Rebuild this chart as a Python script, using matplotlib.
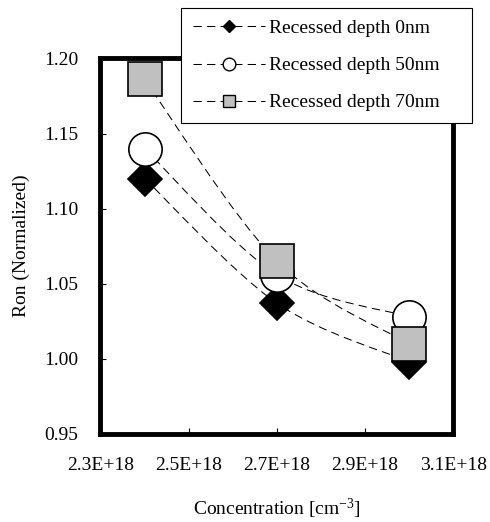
import matplotlib.pyplot as plt
from matplotlib.path import Path
from matplotlib.patches import PathPatch
from matplotlib.lines import Line2D
import numpy as np

plt.rcParams['font.family'] = ['Liberation Serif', 'DejaVu Serif']

# data
concentration = [2.4e18, 2.7e18, 3.0e18]
ron_0nm = [1.120, 1.037, 0.998]
ron_50nm = [1.140, 1.056, 1.028]
ron_70nm = [1.186, 1.065, 1.010]
labels = ['Recessed depth 0nm', 'Recessed depth 50nm', 'Recessed depth 70nm']
xticks = [2.3e18, 2.5e18, 2.7e18, 2.9e18, 3.1e18]
xtick_labels = ['2.3E+18', '2.5E+18', '2.7E+18', '2.9E+18', '3.1E+18']
yticks = [0.95, 1.00, 1.05, 1.10, 1.15, 1.20]


def smooth_path(x, y):
    # excel-style smoothed line: bezier segments through the points
    pts = np.column_stack([x, y])
    n = len(pts)
    verts = [pts[0]]
    codes = [Path.MOVETO]
    for i in range(n - 1):
        p0 = pts[i - 1] if i > 0 else pts[i]
        p1 = pts[i]
        p2 = pts[i + 1]
        p3 = pts[i + 2] if i + 2 < n else pts[i + 1]
        c1 = p1 + (p2 - p0) / 6.0
        c2 = p2 - (p3 - p1) / 6.0
        verts += [c1, c2, p2]
        codes += [Path.CURVE4] * 3
    return Path(verts, codes)


fig = plt.figure(figsize=(4.9, 5.22), dpi=100)
ax = fig.add_axes([0.205, 0.169, 0.72, 0.719])

dash = (0, (8, 5))
styles = [
    dict(marker='D', ms=17, mfc='black', mec='black'),
    dict(marker='o', ms=24, mfc='white', mec='black'),
    dict(marker='s', ms=24, mfc='#c0c0c0', mec='black'),
]
series = [ron_0nm, ron_50nm, ron_70nm]

for vals in series:
    patch = PathPatch(smooth_path(concentration, vals), fill=False,
                      edgecolor='black', lw=0.75, linestyle=dash, zorder=2)
    ax.add_patch(patch)

handles = []
for i, (vals, st) in enumerate(zip(series, styles)):
    ax.plot(concentration, vals, ls='none', mew=1.2, zorder=3 + i, **st)
    hst = dict(st)
    hst['ms'] = st['ms'] * 0.38
    handles.append(Line2D([], [], color='black', lw=0.75, linestyle=dash,
                          mew=1.0, **hst))

ax.set_xlim(2.3e18, 3.1e18)
ax.set_ylim(0.95, 1.20)
ax.set_xticks(xticks)
ax.set_xticklabels(xtick_labels)
ax.set_yticks(yticks)
ax.set_yticklabels([f'{v:.2f}' for v in yticks])
ax.tick_params(direction='in', length=4, width=0.8, labelsize=14)
ax.tick_params(axis='x', pad=17)
ax.tick_params(axis='y', pad=16)

for sp in ax.spines.values():
    sp.set_linewidth(3.5)

ax.set_ylabel('Ron (Normalized)', fontsize=14, labelpad=10)
ax.set_xlabel('Concentration [cm$\\mathregular{^{-3}}$]', fontsize=14,
              labelpad=16)

leg = fig.legend(handles, labels, loc='upper left',
                 bbox_to_anchor=(181 / 490, 1 - 8 / 522, 291 / 490, 0.0),
                 mode='expand', fontsize=14,
                 handlelength=3.7, handletextpad=0.25, labelspacing=1.0,
                 borderpad=0.6, borderaxespad=0, fancybox=False,
                 framealpha=1, edgecolor='black')
leg.get_frame().set_linewidth(0.8)

fig.savefig('out.png', dpi=100)
